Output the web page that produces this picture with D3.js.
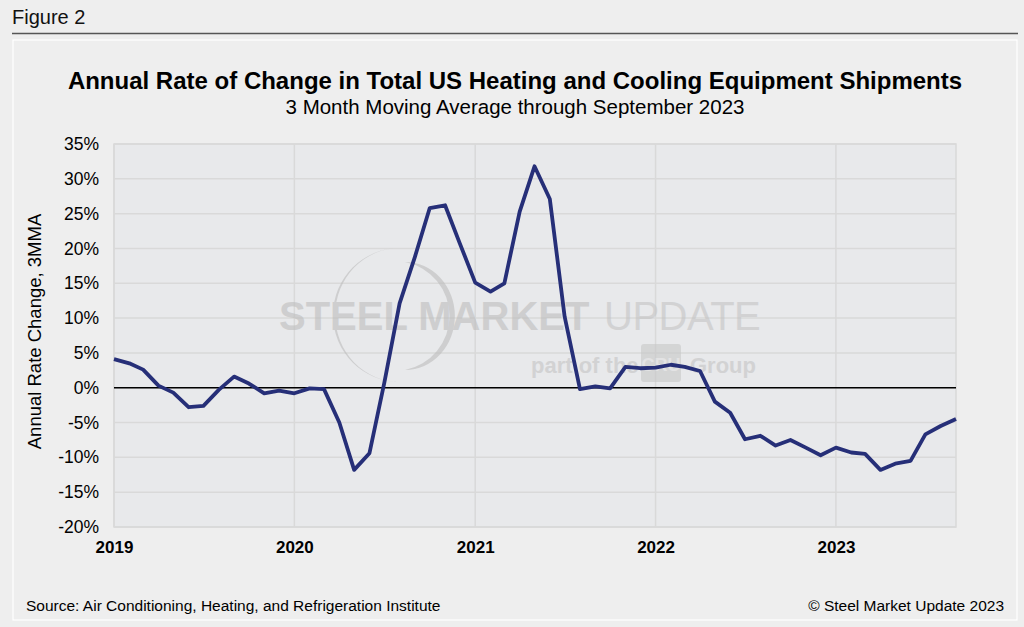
<!DOCTYPE html>
<html>
<head>
<meta charset="utf-8">
<script src="https://cdn.jsdelivr.net/npm/d3@7"></script>
<style>
  html, body { margin: 0; padding: 0; background: #eeeeee; }
  svg { display: block; font-family: "Liberation Sans", Arial, sans-serif; }
</style>
</head>
<body>
<svg id="chart" width="1024" height="627"></svg>
<script>
// monthly 3MMA annual rate of change, Jan 2019 .. Sep 2023
const startMonth = "2019-01";
const values = [
  4.1, 3.5, 2.6, 0.3, -0.7, -2.8, -2.6, -0.3, 1.6, 0.6, -0.8, -0.4,   // 2019
  -0.8, -0.1, -0.2, -5.0, -11.8, -9.4, 0.7, 12.1, 18.8, 25.8, 26.2, 20.7, // 2020
  15.1, 13.8, 15.0, 25.3, 31.8, 27.1, 10.2, -0.2, 0.2, -0.1, 3.0, 2.8,  // 2021
  2.9, 3.3, 3.0, 2.4, -2.0, -3.6, -7.4, -6.9, -8.3, -7.5, -8.6, -9.7,  // 2022
  -8.6, -9.3, -9.5, -11.8, -10.9, -10.5, -6.7, -5.5, -4.5              // 2023
];
const yTicks = [-20, -15, -10, -5, 0, 5, 10, 15, 20, 25, 30, 35];
const yearTicks = ["2019", "2020", "2021", "2022", "2023"];

const title = "Annual Rate of Change in Total US Heating and Cooling Equipment Shipments";
const subtitle = "3 Month Moving Average through September 2023";
const yTitle = "Annual Rate Change, 3MMA";
const source = "Source: Air Conditioning, Heating, and Refrigeration Institute";
const copyright = "\u00A9 Steel Market Update 2023";

const parse = d3.timeParse("%Y-%m");
const t0 = parse(startMonth);
const data = values.map((v, i) => ({ date: d3.timeMonth.offset(t0, i), value: v }));

const svg = d3.select("#chart");
const plot = { left: 114, right: 956, top: 144, bottom: 527 };

const x = d3.scaleTime()
  .domain(d3.extent(data, d => d.date))
  .range([plot.left, plot.right]);
const y = d3.scaleLinear()
  .domain([-20, 35])
  .range([plot.bottom, plot.top]);

// figure header
svg.append("text")
  .attr("x", 12).attr("y", 24)
  .attr("font-size", 20).attr("fill", "#111")
  .text("Figure 2");
svg.append("line")
  .attr("x1", 12).attr("x2", 1018).attr("y1", 33.5).attr("y2", 33.5)
  .attr("stroke", "#555").attr("stroke-width", 1.5);

// panel
svg.append("rect")
  .attr("x", 13).attr("y", 40).attr("width", 1004).attr("height", 580)
  .attr("fill", "#eeeeee").attr("stroke", "#ffffff").attr("stroke-width", 1.2);

svg.append("text")
  .attr("x", 515).attr("y", 89).attr("text-anchor", "middle")
  .attr("font-size", 24).attr("font-weight", "bold").attr("fill", "#000")
  .text(title);
svg.append("text")
  .attr("x", 515).attr("y", 114).attr("text-anchor", "middle")
  .attr("font-size", 20.5).attr("fill", "#000")
  .text(subtitle);

// plot background
svg.append("rect")
  .attr("x", plot.left).attr("y", plot.top)
  .attr("width", plot.right - plot.left).attr("height", plot.bottom - plot.top)
  .attr("fill", "#e8e9eb").attr("stroke", "#d9d9d9").attr("stroke-width", 1.5);

// gridlines
svg.append("g")
  .selectAll("line.hgrid")
  .data(yTicks)
  .join("line")
  .attr("x1", plot.left).attr("x2", plot.right)
  .attr("y1", d => y(d)).attr("y2", d => y(d))
  .attr("stroke", "#d9d9d9").attr("stroke-width", 1.5);

const yearDates = yearTicks.map(s => d3.timeParse("%Y")(s));
svg.append("g")
  .selectAll("line")
  .data(yearDates)
  .join("line")
  .attr("x1", d => x(d)).attr("x2", d => x(d))
  .attr("y1", plot.top).attr("y2", plot.bottom)
  .attr("stroke", "#d9d9d9").attr("stroke-width", 1.5);

// watermark
const wm = svg.append("g").attr("opacity", 0.6);
wm.append("path")
  .attr("fill-rule", "evenodd")
  .attr("fill", "#bdbdbd")
  .attr("d", "M 400 248 A 67 67 0 1 0 400 382 A 60 62 0 1 1 400 248 Z");
wm.append("path")
  .attr("fill-rule", "evenodd")
  .attr("fill", "#bdbdbd")
  .attr("d", "M 405 262 A 55 55 0 0 1 405 370 A 48 52 0 0 0 405 262 Z");
wm.append("text")
  .attr("x", 279).attr("y", 330)
  .attr("font-size", 40).attr("font-weight", "bold").attr("fill", "#bdbdbd")
  .text("STEEL MARKET");
wm.append("text")
  .attr("x", 604).attr("y", 330)
  .attr("font-size", 40).attr("font-weight", "normal").attr("fill", "#c4c4c4")
  .attr("letter-spacing", -0.5)
  .text("UPDATE");
wm.append("text")
  .attr("x", 531).attr("y", 373)
  .attr("font-size", 22).attr("font-weight", "bold").attr("fill", "#c4c4c4")
  .text("part of the");
wm.append("rect")
  .attr("x", 641).attr("y", 344).attr("width", 40).attr("height", 38).attr("rx", 3)
  .attr("fill", "#c8c8c8");
wm.append("text")
  .attr("x", 661).attr("y", 371).attr("text-anchor", "middle")
  .attr("font-size", 18).attr("font-weight", "bold").attr("fill", "#e0e0e0")
  .text("CRU");
wm.append("text")
  .attr("x", 690).attr("y", 373)
  .attr("font-size", 22).attr("font-weight", "bold").attr("fill", "#c4c4c4")
  .text("Group");

// zero line
svg.append("line")
  .attr("x1", plot.left).attr("x2", plot.right)
  .attr("y1", y(0)).attr("y2", y(0))
  .attr("stroke", "#000").attr("stroke-width", 1.5);

// y axis labels
const yAxis = d3.axisLeft(y)
  .tickValues(yTicks)
  .tickSize(0)
  .tickPadding(0)
  .tickFormat(d => d + "%");
svg.append("g")
  .attr("transform", `translate(${plot.left - 15},0)`)
  .call(yAxis)
  .call(g => g.select(".domain").remove())
  .call(g => g.selectAll("text")
    .attr("font-size", 17.5).attr("fill", "#000")
    .attr("font-family", "'Liberation Sans', Arial, sans-serif"));

// x axis labels
const xAxis = d3.axisBottom(x)
  .tickValues(yearDates)
  .tickSize(0)
  .tickPadding(0)
  .tickFormat(d3.timeFormat("%Y"));
svg.append("g")
  .attr("transform", `translate(0,${plot.bottom + 14})`)
  .call(xAxis)
  .call(g => g.select(".domain").remove())
  .call(g => g.selectAll("text")
    .attr("font-size", 17).attr("font-weight", "bold").attr("fill", "#000")
    .attr("font-family", "'Liberation Sans', Arial, sans-serif"));

svg.append("text")
  .attr("transform", `translate(41,${(plot.top + plot.bottom) / 2 - 4}) rotate(-90)`)
  .attr("text-anchor", "middle")
  .attr("font-size", 18.5).attr("fill", "#000")
  .text(yTitle);

// series line
const line = d3.line()
  .x(d => x(d.date))
  .y(d => y(d.value));
svg.append("path")
  .datum(data)
  .attr("d", line)
  .attr("fill", "none")
  .attr("stroke", "#262f78")
  .attr("stroke-width", 3.8)
  .attr("stroke-linejoin", "round");

// footer
svg.append("text")
  .attr("x", 26).attr("y", 611)
  .attr("font-size", 15.5).attr("fill", "#000")
  .text(source);
svg.append("text")
  .attr("x", 1004).attr("y", 611).attr("text-anchor", "end")
  .attr("font-size", 15.5).attr("fill", "#000")
  .text(copyright);
</script>
</body>
</html>
